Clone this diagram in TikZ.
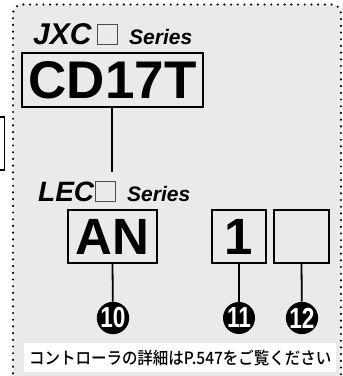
\documentclass[tikz,border=0pt]{standalone}
\usepackage{xcolor}
\usepackage{tikz}
\usepackage{fontspec}
\setmainfont{Liberation Sans}
\newfontfamily\jpfont[BoldFont={Noto Sans CJK JP Medium}]{Noto Sans CJK JP}
\definecolor{panelgray}{RGB}{233,234,234}
\tikzset{
  codebox/.style={draw, line width=1.8pt, inner sep=0pt, fill=panelgray},
  numdot/.style={circle, fill=black, text=white, minimum size=32pt, inner sep=0pt},
  dotborder/.style={line width=2.4pt, line cap=round, dash pattern=on 0pt off 6.7pt},
  lead/.style={line width=1.8pt},
  sqmark/.style={draw, line width=0.8pt, draw=black!70, minimum width=20pt, minimum height=20pt, inner sep=0pt, anchor=south west}
}

\begin{document}
\begin{tikzpicture}[x=1pt,y=-1pt]
                  \useasboundingbox (0,0) rectangle (343,376);
                  \clip (0,0) rectangle (343,376);
                  % panel
                  \fill[panelgray, rounded corners=9pt] (13,390) -- (13,4.5) -- (341,4.5) -- (341,390) -- cycle;
                  \draw[dotborder, rounded corners=9pt] (13,380) -- (13,4.5) -- (341,4.5) -- (341,380);
                  \draw[line width=1.5pt] (-10,117) rectangle (4.5,170);
                  % upper series
                  \node[anchor=base west, inner sep=0pt] (jxc) at (33,44) {\fontsize{30}{30}\selectfont\bfseries\itshape JXC};
                  \node[sqmark] (jxcsq) at (97,45) {};
                  \node[anchor=base west, inner sep=0pt] (jxcser) at (129,44) {\fontsize{21}{21}\selectfont\bfseries\itshape Series};
                  \node[codebox, minimum width=181pt, minimum height=54pt] (cd) at (112.5,80) {\fontsize{53}{53}\selectfont\bfseries CD17T};
                  \coordinate (cdend) at (112,172);
                  \draw[lead] (cd.south -| cdend) -- (cdend);
                  % lower series
                  \node[anchor=base west, inner sep=0pt] (lec) at (38,201) {\fontsize{28}{28}\selectfont\bfseries\itshape LEC};
                  \node[sqmark] (lecsq) at (95,202) {};
                  \node[anchor=base west, inner sep=0pt] (lecser) at (127,201) {\fontsize{21}{21}\selectfont\bfseries\itshape Series};
                  \node[codebox, minimum width=89pt, minimum height=53pt] (an) at (112.5,236.5) {\fontsize{51}{51}\selectfont\bfseries AN};
                  \node[codebox, minimum width=54pt, minimum height=53pt] (one) at (239,236.5) {\fontsize{51}{51}\selectfont\bfseries 1};
                  \node[codebox, minimum width=55pt, minimum height=53pt] (blank) at (301.5,236.5) {};
                  % numbers
                  \node[numdot] (n10) at (113,318) {\fontsize{29}{29}\selectfont\bfseries\scalebox{0.78}[1]{10}};
                  \node[numdot] (n11) at (239,318) {\fontsize{29}{29}\selectfont\bfseries\scalebox{0.78}[1]{11}};
                  \node[numdot] (n12) at (302,318) {\fontsize{29}{29}\selectfont\bfseries\scalebox{0.78}[1]{12}};
                  \draw[lead] (an.south) -- (n10);
                  \draw[lead] (one.south) -- (n11);
                  \draw[lead] (blank.south) -- (n12);
                  % note
                  \node[fill=white, minimum width=312pt, minimum height=29pt, inner sep=0pt, anchor=north west] (note) at (24,343) {\fontsize{17}{17}\selectfont\jpfont\bfseries\scalebox{0.91}[1]{コントローラの詳細はP.547をご覧ください}};
              \end{tikzpicture}
\end{document}
